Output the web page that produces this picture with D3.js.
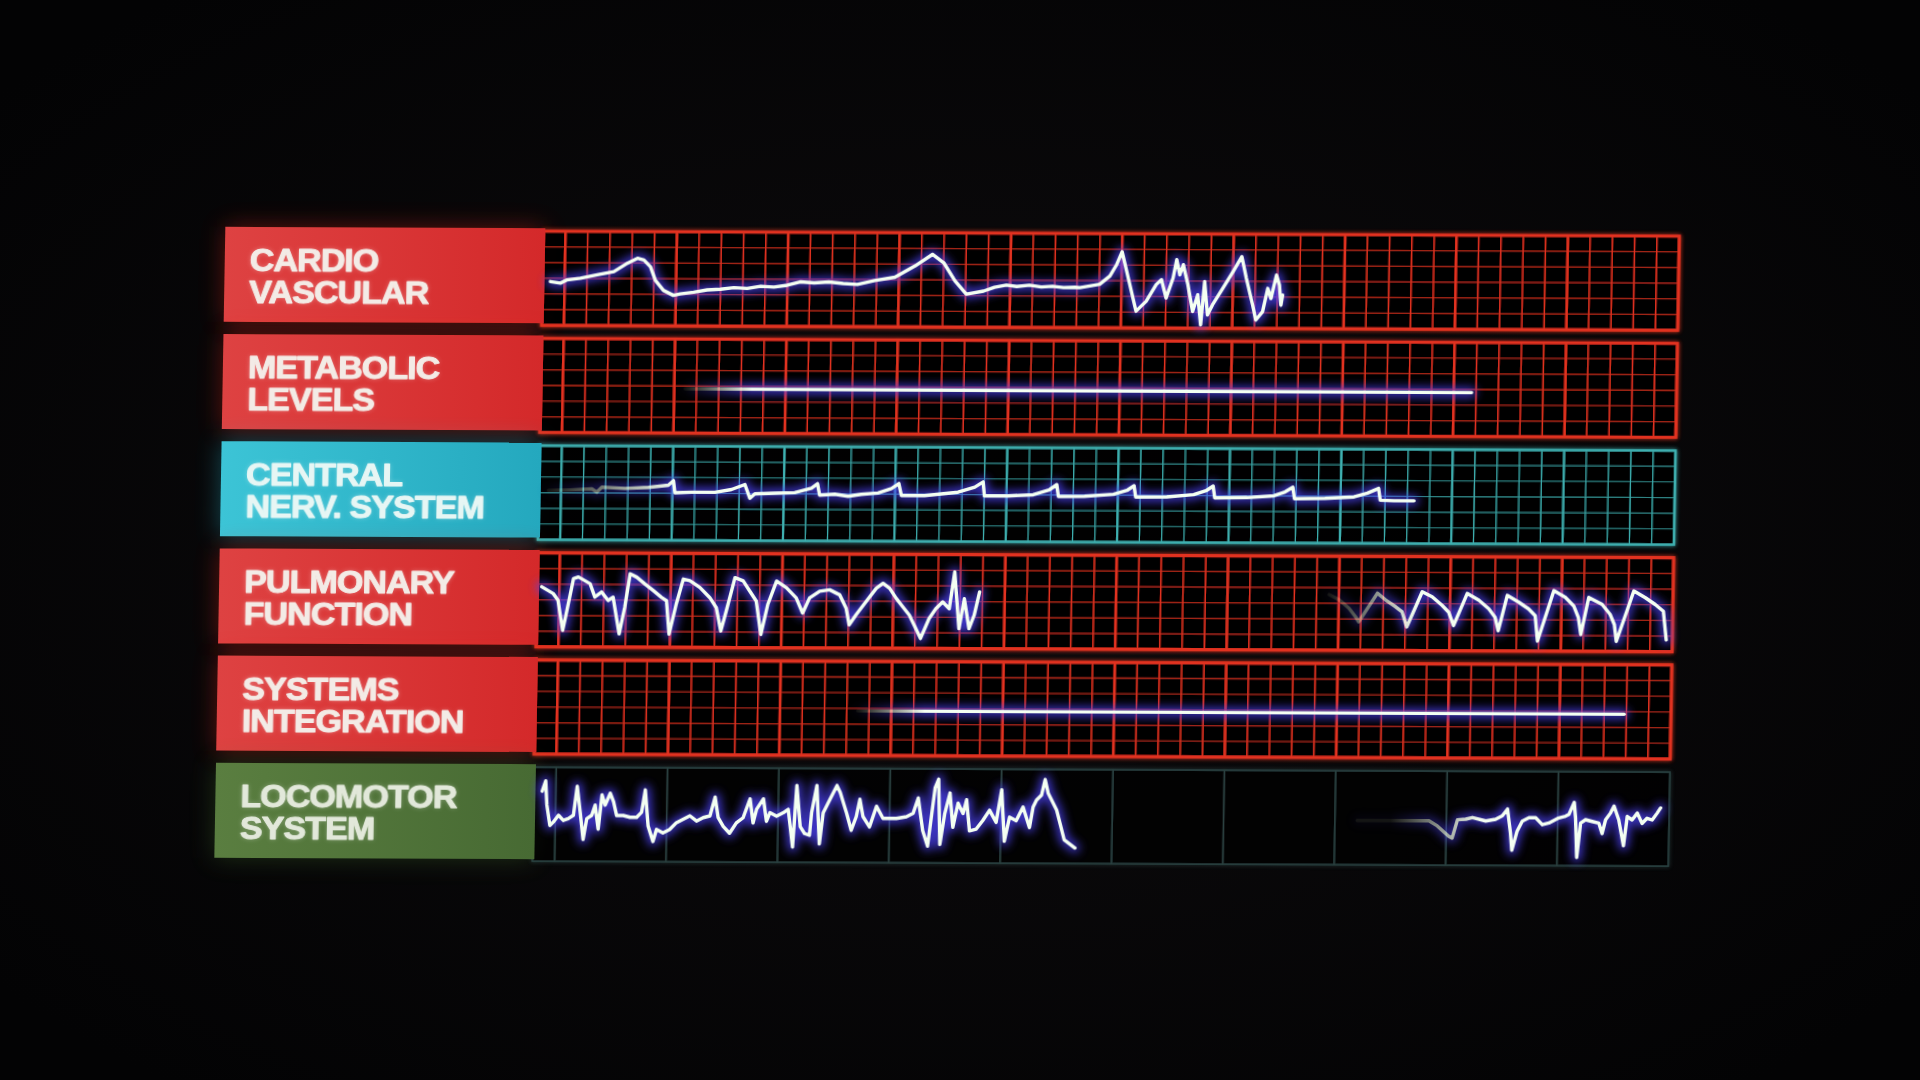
<!DOCTYPE html>
<html>
<head>
<meta charset="utf-8">
<script src="https://cdn.jsdelivr.net/npm/d3@7"></script>
<style>
html, body { margin: 0; padding: 0; background: #060607; }
svg { display: block; }
</style>
</head>
<body>
<svg id="chart" width="1920" height="1080"></svg>
<script>
// ---- data -------------------------------------------------------------
const rowLabels = [
    ["CARDIO", "VASCULAR"],
    ["METABOLIC", "LEVELS"],
    ["CENTRAL", "NERV. SYSTEM"],
    ["PULMONARY", "FUNCTION"],
    ["SYSTEMS", "INTEGRATION"],
    ["LOCOMOTOR", "SYSTEM"]
];
const rowThemes = ["red", "red", "cyan", "red", "red", "green"];

// x in grid columns (0..51), y in grid divisions (0..6, bottom = 0)
const cardioVascular = [[0.36,2.79],[0.81,2.69],[1.11,2.90],[1.70,3.01],[2.45,3.23],[3.20,3.44],[3.80,3.98],[4.25,4.30],[4.54,4.19],[4.84,3.76],[5.07,2.90],[5.44,2.26],[5.89,1.94],[6.19,2.04],[6.8,2.15],[7.4,2.30],[8.0,2.35],[8.6,2.45],[9.2,2.40],[9.8,2.55],[10.4,2.50],[11.0,2.62],[11.57,2.84],[12.2,2.78],[12.86,2.84],[13.5,2.75],[14.14,2.69],[14.92,2.95],[15.82,3.16],[16.72,3.89],[17.49,4.63],[18.0,4.10],[18.52,2.95],[19.04,2.10],[19.81,2.30],[20.3,2.55],[20.83,2.69],[21.3,2.60],[21.87,2.69],[22.4,2.58],[22.9,2.63],[23.4,2.55],[23.92,2.57],[24.13,2.55],[25.02,2.77],[25.47,3.30],[25.77,4.04],[26.0,4.85],[26.22,3.62],[26.67,1.06],[27.12,1.70],[27.56,2.77],[27.79,3.08],[28.01,1.91],[28.31,3.19],[28.46,4.36],[28.61,3.40],[28.76,4.04],[28.98,2.77],[29.21,1.06],[29.43,2.13],[29.58,0.21],[29.73,2.98],[29.88,0.85],[30.10,1.49],[30.55,2.55],[31.0,3.62],[31.38,4.57],[31.60,3.19],[31.90,1.49],[32.05,0.53],[32.35,1.06],[32.57,2.55],[32.72,1.91],[32.95,3.40],[33.09,2.77],[33.17,1.49],[33.24,2.13]];

const metabolicLevels = [[6.5,2.82],[41.8,2.80]];

const centralNervSystem = [[0.43,3.14],[1.4,3.18],[2.38,3.25],[2.6,3.05],[2.83,3.36],[3.87,3.29],[4.92,3.36],[5.81,3.51],[6.04,3.80],[6.11,3.03],[6.86,3.07],[7.91,3.07],[8.65,3.25],[9.25,3.57],[9.48,2.70],[9.70,2.98],[10.6,3.03],[11.49,3.07],[12.24,3.36],[12.51,3.64],[12.61,2.92],[13.29,2.98],[13.89,2.85],[14.48,2.98],[15.23,3.07],[15.83,3.36],[16.16,3.68],[16.28,2.92],[17.32,2.92],[18.82,3.14],[19.57,3.47],[19.94,3.80],[20.01,2.92],[21.06,2.92],[22.2,3.0],[22.9,3.3],[23.25,3.65],[23.33,2.9],[24.5,2.92],[25.8,3.05],[26.4,3.3],[26.72,3.6],[26.8,2.88],[28.2,2.9],[29.4,3.05],[29.95,3.3],[30.27,3.6],[30.35,2.85],[31.8,2.88],[33.0,3.0],[33.5,3.25],[33.85,3.55],[33.93,2.82],[35.3,2.85],[36.6,2.95],[37.2,3.2],[37.7,3.5],[37.78,2.75],[38.4,2.72],[39.3,2.72]];

const pulmonaryA = [[0.21,3.83],[0.73,3.40],[0.95,2.98],[1.18,1.06],[1.33,2.13],[1.63,4.36],[1.85,4.47],[2.38,4.04],[2.60,3.19],[2.90,3.51],[3.20,2.98],[3.42,3.19],[3.72,0.85],[3.95,2.55],[4.17,4.68],[4.47,4.47],[4.84,4.04],[5.22,3.62],[5.59,3.19],[5.82,2.98],[5.96,0.85],[6.26,2.77],[6.56,4.36],[6.86,4.26],[7.31,3.83],[7.76,3.19],[8.06,2.55],[8.28,1.06],[8.51,2.34],[8.88,4.47],[9.25,4.26],[9.55,3.62],[9.85,2.98],[10.08,0.85],[10.37,2.77],[10.75,4.26],[11.20,3.83],[11.64,3.19],[11.94,2.23],[12.24,3.19],[12.69,3.62],[13.14,3.72],[13.59,3.40],[13.89,2.55],[14.04,1.49],[14.34,2.13],[14.78,2.98],[15.23,3.83],[15.53,4.15],[15.83,3.83],[16.13,3.19],[16.43,2.66],[16.73,2.13],[17.03,1.28],[17.25,0.64],[17.62,1.91],[17.92,2.55],[18.22,2.98],[18.52,2.55],[18.74,4.89],[18.97,1.28],[19.19,3.19],[19.42,1.28],[19.64,2.13],[19.87,3.62]];

const pulmonaryB = [[35.56,3.55],[36.01,3.23],[36.46,2.69],[36.76,2.15],[36.91,1.83],[37.73,3.66],[38.10,3.23],[38.55,2.80],[38.85,2.47],[39.07,1.51],[39.74,3.76],[40.19,3.44],[40.64,2.90],[40.94,2.47],[41.17,1.61],[41.76,3.66],[42.29,3.23],[42.74,2.69],[43.03,2.15],[43.18,1.29],[43.56,3.55],[44.08,3.12],[44.53,2.69],[44.83,2.26],[44.95,0.65],[45.65,3.87],[46.17,3.44],[46.55,2.90],[46.77,2.15],[46.89,1.08],[47.22,3.44],[47.82,3.01],[48.19,2.37],[48.39,1.72],[48.49,0.65],[49.24,3.87],[49.76,3.44],[50.21,3.01],[50.58,2.58],[50.73,0.75]];

const systemsIntegration = [[14.5,2.84],[48.9,2.84]];

const locomotorA = [[0.39,4.47],[0.54,5.13],[0.61,3.60],[0.76,2.28],[0.91,2.50],[1.14,2.94],[1.36,2.61],[1.58,2.72],[1.81,2.94],[1.96,4.80],[2.11,3.16],[2.26,1.40],[2.41,2.72],[2.63,2.94],[2.78,3.60],[2.93,2.06],[3.08,4.25],[3.23,3.60],[3.45,4.36],[3.60,3.82],[3.75,2.94],[4.05,2.94],[4.35,2.83],[4.65,2.83],[4.87,3.16],[5.02,4.58],[5.17,2.28],[5.40,1.29],[5.55,2.06],[5.84,1.84],[6.14,2.06],[6.44,2.50],[6.74,2.72],[7.04,2.94],[7.34,2.61],[7.64,2.83],[7.94,2.94],[8.16,4.14],[8.31,2.83],[8.54,2.28],[8.83,1.84],[9.13,2.50],[9.43,2.83],[9.73,4.04],[9.88,2.50],[10.03,3.38],[10.33,4.04],[10.48,2.61],[10.63,3.16],[10.93,2.94],[11.23,3.16],[11.45,3.38],[11.67,0.97],[11.82,4.91],[12.0,2.28],[12.20,1.84],[12.42,1.73],[12.50,3.16],[12.72,4.91],[12.87,1.18],[13.02,3.16],[13.32,4.04],[13.62,4.91],[13.77,4.47],[14.07,3.16],[14.29,2.06],[14.51,2.94],[14.66,4.04],[14.81,2.94],[15.11,2.28],[15.41,3.60],[15.71,2.83],[16.01,2.83],[16.31,2.83],[16.76,2.94],[17.06,3.16],[17.28,4.14],[17.50,2.06],[17.73,1.07],[17.88,2.94],[18.03,4.80],[18.18,5.35],[18.28,1.18],[18.48,3.16],[18.70,4.47],[18.85,2.28],[19.07,3.82],[19.30,3.16],[19.45,4.04],[19.60,2.06],[19.90,2.17],[20.19,2.72],[20.49,3.38],[20.79,2.61],[21.02,4.69],[21.17,1.40],[21.39,2.94],[21.69,2.72],[21.99,3.60],[22.29,2.28],[22.44,3.60],[22.59,4.04],[22.81,4.36],[22.96,5.35],[23.11,4.47],[23.5,3.40],[23.86,1.51],[24.35,0.99]];

const locomotorB = [[37.0,2.83],[38.5,2.83],[39.78,2.83],[40.22,2.83],[40.6,2.50],[41.12,1.84],[41.27,1.73],[41.5,2.90],[41.87,2.94],[42.17,3.05],[42.77,2.83],[43.21,2.94],[43.51,3.16],[43.74,3.60],[43.89,2.06],[43.96,0.97],[44.18,2.17],[44.41,2.83],[44.71,3.05],[45.01,3.05],[45.31,2.61],[45.61,2.72],[46.05,3.05],[46.35,3.16],[46.50,3.27],[46.73,4.04],[46.80,3.05],[46.88,0.53],[47.03,2.72],[47.25,2.94],[47.55,2.83],[47.85,2.72],[48.00,2.06],[48.15,2.94],[48.37,3.38],[48.52,3.82],[48.74,2.94],[48.97,1.29],[49.12,3.16],[49.34,2.94],[49.57,3.38],[49.79,2.72],[50.01,3.05],[50.24,2.94],[50.46,3.38],[50.61,3.71]];

// which row each trace sits in, and where it fades in (grid columns)
const traces = [
    { row: 0, pts: cardioVascular, fade: null },
    { row: 1, pts: metabolicLevels, fade: [6.5, 9.5] },
    { row: 2, pts: centralNervSystem, fade: [0.4, 6.0] },
    { row: 3, pts: pulmonaryA, fade: null },
    { row: 3, pts: pulmonaryB, fade: [35.5, 39.5] },
    { row: 4, pts: systemsIntegration, fade: [14.5, 17.5] },
    { row: 5, pts: locomotorA, fade: null },
    { row: 5, pts: locomotorB, fade: [38.5, 42.5] }
];

const COLS = 51, DIVS = 6;

// ---- layout -----------------------------------------------------------
const W = 1920, H = 1080;
const labelX = 220, labelW = 318, gridW = 1136;
const rowTop0 = 230, rowStep = 107.2, rowH = 95;

const themes = {
    red:   { label: ["#de4242", "#d4292a"], grid: "#ee3522", minor: 1.5, hminor: 1.3, hOp: 0.7, major: 2.6, border: 3.2, gridOp: 0.95, text: "#f3ebe6", bloom: "#ff2a1a", minors: true },
    cyan:  { label: ["#3cc4d6", "#24a8be"], grid: "#44c2c2", minor: 1.2, hminor: 1.1, hOp: 0.75, major: 2.2, border: 2.6, gridOp: 0.9, text: "#e6f6f4", bloom: "#2fc8e0", minors: true },
    green: { label: ["#5a7e40", "#476a33"], grid: "#3a5c5a", minor: 0, hminor: 0, hOp: 0, major: 1.6, border: 1.6, gridOp: 0.7, text: "#e2e8da", bloom: "#4a7a30", minors: false }
};

const svg = d3.select("#chart");
const defs = svg.append("defs");

// background vignette
const bg = defs.append("radialGradient").attr("id", "bg").attr("cx", "50%").attr("cy", "50%").attr("r", "65%");
bg.append("stop").attr("offset", "0%").attr("stop-color", "#0e0c0e");
bg.append("stop").attr("offset", "100%").attr("stop-color", "#030304");
svg.append("rect").attr("width", W).attr("height", H).attr("fill", "url(#bg)");

function userFilter(id, sd, keepSource) {
    const f = defs.append("filter").attr("id", id)
        .attr("filterUnits", "userSpaceOnUse")
        .attr("x", -100).attr("y", -100).attr("width", W + 200).attr("height", H + 200);
    f.append("feGaussianBlur").attr("in", "SourceGraphic").attr("stdDeviation", sd).attr("result", "b");
    if (keepSource) {
        const m = f.append("feMerge");
        m.append("feMergeNode").attr("in", "b");
        m.append("feMergeNode").attr("in", "SourceGraphic");
    }
}
userFilter("soft", 2.2, true);
userFilter("bloom", 12, false);
userFilter("traceGlow", 5, false);
userFilter("coreSoft", 0.5, false);
userFilter("textSoft", 0.7, false);
userFilter("textGlow", 2.5, false);

Object.keys(themes).forEach(function(k) {
    const g = defs.append("linearGradient").attr("id", "lab-" + k);
    g.append("stop").attr("offset", "0%").attr("stop-color", themes[k].label[0]);
    g.append("stop").attr("offset", "100%").attr("stop-color", themes[k].label[1]);
});

// the filmed screen is slightly tilted
const panel = svg.append("g")
    .attr("transform", "rotate(0.25 950 540) translate(7 0) skewX(-0.75)");

const rowScales = [];

rowLabels.forEach(function(lines, i) {
    const th = themes[rowThemes[i]];
    const top = rowTop0 + i * rowStep;
    const gx0 = labelX + labelW, gx1 = gx0 + gridW;
    const gy0 = top + 3, gy1 = top + 97;

    const x = d3.scaleLinear().domain([0, COLS]).range([gx0, gx1]);
    const y = d3.scaleLinear().domain([0, DIVS]).range([gy1, gy0]);
    rowScales.push({ x: x, y: y });

    // bloom behind the label
    panel.append("rect")
        .attr("x", labelX).attr("y", top).attr("width", labelW).attr("height", rowH)
        .attr("fill", th.bloom).attr("opacity", 0.35).attr("filter", "url(#bloom)");

    // grid
    const gg = panel.append("g").attr("filter", "url(#soft)").attr("opacity", th.gridOp);
    gg.append("rect")
        .attr("x", gx0).attr("y", gy0).attr("width", gridW).attr("height", gy1 - gy0)
        .attr("fill", "#040304");

    if (th.minors) {
        gg.selectAll(null).data(d3.range(1, DIVS)).join("line")
            .attr("x1", gx0).attr("x2", gx1)
            .attr("y1", function(d) { return y(d); }).attr("y2", function(d) { return y(d); })
            .attr("stroke", th.grid).attr("stroke-width", th.hminor).attr("opacity", th.hOp);
    }

    const cols = d3.range(1, COLS).filter(function(c) { return th.minors || c % 5 === 1; });
    gg.selectAll(null).data(cols).join("line")
        .attr("x1", function(c) { return x(c); }).attr("x2", function(c) { return x(c); })
        .attr("y1", gy0).attr("y2", gy1)
        .attr("stroke", th.grid)
        .attr("stroke-width", function(c) { return c % 5 === 1 ? th.major : th.minor; });

    gg.append("rect")
        .attr("x", gx0).attr("y", gy0).attr("width", gridW).attr("height", gy1 - gy0)
        .attr("fill", "none").attr("stroke", th.grid).attr("stroke-width", th.border);

    // label block
    panel.append("rect")
        .attr("x", labelX).attr("y", top).attr("width", labelW + 2).attr("height", rowH)
        .attr("fill", "url(#lab-" + rowThemes[i] + ")");

    const baselines = [top + 44, top + 76];
    lines.forEach(function(t, j) {
        const tr = "translate(" + (labelX + 25) + "," + baselines[j] + ") scale(1.12,1)";
        panel.append("text").attr("transform", tr)
            .attr("font-family", "'Liberation Sans', Arial, sans-serif")
            .attr("font-weight", "bold").attr("font-size", 30.5).attr("letter-spacing", -0.9)
            .attr("fill", "#ffffff").attr("opacity", 0.35).attr("filter", "url(#textGlow)")
            .text(t);
        panel.append("text").attr("transform", tr)
            .attr("font-family", "'Liberation Sans', Arial, sans-serif")
            .attr("font-weight", "bold").attr("font-size", 30.5).attr("letter-spacing", -0.9)
            .attr("fill", th.text).attr("stroke", th.text).attr("stroke-width", 0.9)
            .attr("stroke-linejoin", "round").attr("filter", "url(#textSoft)")
            .text(t);
    });
});

// traces
traces.forEach(function(tr, k) {
    const s = rowScales[tr.row];
    const line = d3.line()
        .x(function(d) { return s.x(d[0]); })
        .y(function(d) { return s.y(d[1]); });

    const g = panel.append("g");
    if (tr.fade) {
        const grad = defs.append("linearGradient").attr("id", "fg" + k)
            .attr("gradientUnits", "userSpaceOnUse")
            .attr("x1", s.x(tr.fade[0])).attr("x2", s.x(tr.fade[1])).attr("y1", 0).attr("y2", 0);
        grad.append("stop").attr("offset", "0%").attr("stop-color", "#141414");
        grad.append("stop").attr("offset", "100%").attr("stop-color", "#ffffff");
        const m = defs.append("mask").attr("id", "fm" + k)
            .attr("maskUnits", "userSpaceOnUse")
            .attr("x", -200).attr("y", -200).attr("width", W + 400).attr("height", H + 400);
        m.append("rect").attr("x", -200).attr("y", -200).attr("width", W + 400).attr("height", H + 400)
            .attr("fill", "url(#fg" + k + ")");
        g.attr("mask", "url(#fm" + k + ")");
    }

    g.append("path").datum(tr.pts)
        .attr("d", line).attr("fill", "none")
        .attr("stroke", "#4f45ff").attr("stroke-width", 10)
        .attr("stroke-linejoin", "round").attr("stroke-linecap", "round")
        .attr("opacity", 0.75).attr("filter", "url(#traceGlow)");
    g.append("path").datum(tr.pts)
        .attr("d", line).attr("fill", "none")
        .attr("stroke", "#f4fff2").attr("stroke-width", 3.4)
        .attr("stroke-linejoin", "round").attr("stroke-linecap", "round")
        .attr("filter", "url(#coreSoft)");
});
</script>
</body>
</html>
